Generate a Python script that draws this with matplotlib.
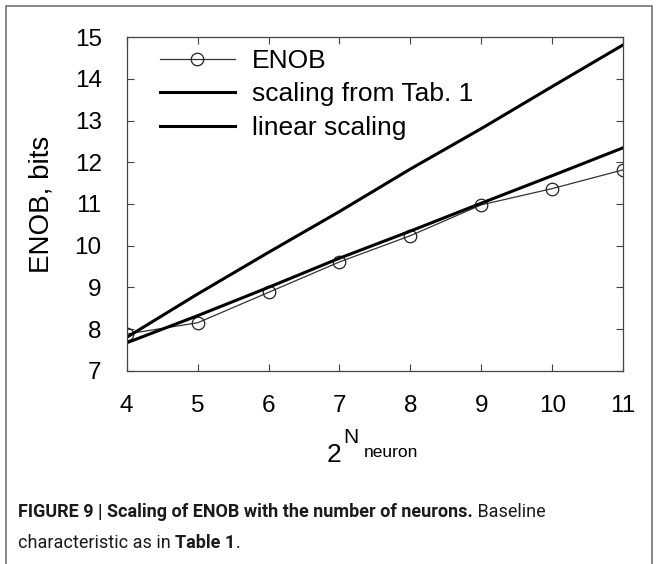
import matplotlib
matplotlib.use("Agg")
import matplotlib.pyplot as plt
from matplotlib.patches import Rectangle

plt.rcParams["font.family"] = ["Liberation Sans", "DejaVu Sans"]

# data
x_vals = [4, 5, 6, 7, 8, 9, 10, 11]
enob = [7.88, 8.15, 8.88, 9.61, 10.24, 10.98, 11.37, 11.82]
scaling_tab1 = [7.67, 8.32, 9.00, 9.70, 10.35, 11.02, 11.68, 12.35]
linear_scaling = [7.80, 8.84, 9.84, 10.82, 11.84, 12.81, 13.82, 14.82]
x_ticks = [4, 5, 6, 7, 8, 9, 10, 11]
y_ticks = [7, 8, 9, 10, 11, 12, 13, 14, 15]

W, H = 658, 564
fig = plt.figure(figsize=(W / 100, H / 100), dpi=100)


def px(x, y):
    # pixel position (from top-left) -> figure fraction
    return x / W, 1 - y / H


# frame around the whole figure panel (open at the bottom)
fig.add_artist(Rectangle((6 / W, -0.05), 646 / W, 1.05 - 6 / H, transform=fig.transFigure,
                         fill=False, edgecolor="#666666", linewidth=1.1))

ax = fig.add_axes([126.7 / W, 1 - 370.7 / H, 496.5 / W, 333.4 / H])
ax.plot(x_vals, enob, color="#333333", lw=0.9, marker="o", ms=9, mfc="none",
        mec="#222222", mew=0.9, label="ENOB")
ax.plot(x_vals, scaling_tab1, color="black", lw=2.2, label="scaling from Tab. 1")
ax.plot(x_vals, linear_scaling, color="black", lw=2.2, label="linear scaling")

ax.set_xlim(4, 11)
ax.set_ylim(7, 15)
ax.set_xticks(x_ticks)
ax.set_yticks(y_ticks)
ax.tick_params(direction="in", length=5, width=0.8, color="#444444",
               top=True, right=True, labelsize=17.5)
ax.tick_params(axis="x", pad=17.5)
ax.tick_params(axis="y", pad=18)
for sp in ax.spines.values():
    sp.set_color("#444444")
    sp.set_linewidth(0.9)

ax.legend(loc="upper left", bbox_to_anchor=(0.067, 0.965), frameon=False, fontsize=19,
          handlelength=2.84, handletextpad=0.64, labelspacing=0.36,
          borderpad=0, borderaxespad=0)

# axis titles
fig.text(*px(41, 204.5), "ENOB, bits", fontsize=20, rotation=90, ha="center", va="center")
fig.text(*px(326.7, 461.7), "2", fontsize=19, ha="left", va="baseline")
fig.text(*px(343.5, 443), "N", fontsize=15, ha="left", va="baseline")
fig.text(*px(364, 456.7), "neuron", fontsize=12.5, ha="left", va="baseline")

# caption with bold and regular pieces
cap_font = ["Roboto", "Liberation Sans", "DejaVu Sans"]
renderer = fig.canvas.get_renderer()


def caption_line(pieces, x0, y0):
    x = x0
    for txt, weight in pieces:
        t = fig.text(*px(x, y0), txt, fontsize=13, fontweight=weight,
                     family=cap_font, color="#1a1a1a", va="baseline", ha="left")
        x += t.get_window_extent(renderer).width


caption_line([("FIGURE 9 | Scaling of ENOB with the number of neurons.", "bold"),
              (" Baseline", "normal")], 18, 517)
caption_line([("characteristic as in ", "normal"), ("Table 1", "bold"), (".", "normal")], 18, 548)

fig.savefig("out.png", dpi=100)
